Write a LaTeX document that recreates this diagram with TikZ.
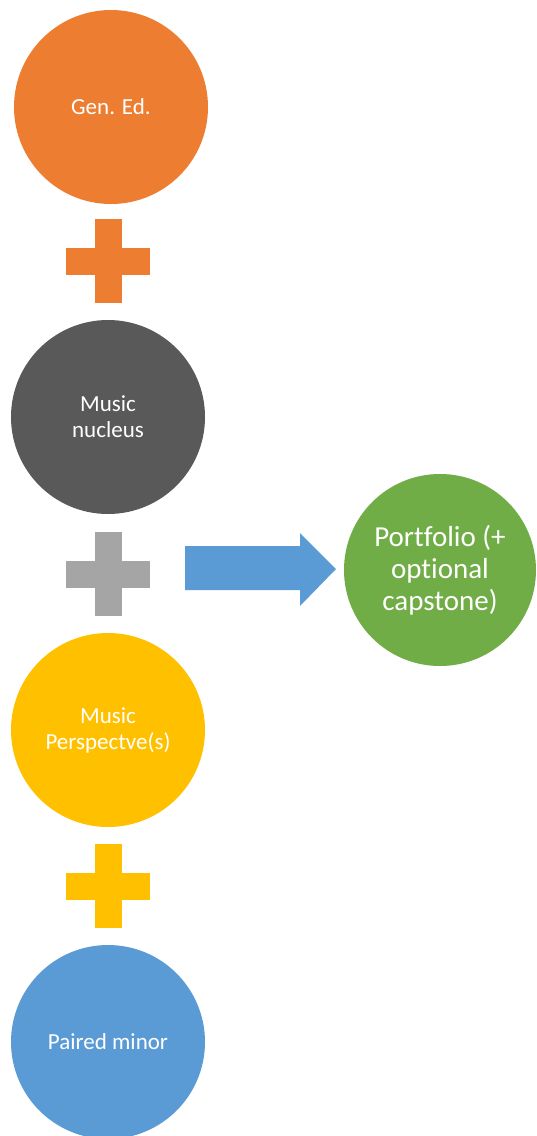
\documentclass[tikz,border=0pt]{standalone}
\usepackage{fontspec}
\setmainfont[Ligatures=NoCommon]{Carlito}

\definecolor{genorange}{HTML}{ED7D31}
\definecolor{nucleusgrey}{HTML}{595959}
\definecolor{plusgrey}{HTML}{A5A5A5}
\definecolor{perspyellow}{HTML}{FFC000}
\definecolor{minorblue}{HTML}{5B9BD5}
\definecolor{portgreen}{HTML}{70AD47}

\tikzset{
  stage/.style={circle,minimum size=194pt,inner sep=0pt,text=white,align=center,
    font=\fontsize{23}{26}\selectfont},
  goal/.style={stage,minimum size=192pt,font=\fontsize{29}{32}\selectfont}
}

\begin{document}
\begin{tikzpicture}[x=1pt,y=-1pt]
  \useasboundingbox (0,0) rectangle (536,1136);

  \node[stage,fill=genorange]   (gen)     at (111,107)  {Gen. Ed.};
  \node[stage,fill=nucleusgrey] (nucleus) at (108,417)  {Music\\nucleus};
  \node[stage,fill=perspyellow] (persp)   at (108,730)  {Music\\Perspectve(s)};
  \node[stage,fill=minorblue]   (minor)   at (108,1042) {Paired minor};

  \node[goal,fill=portgreen] (portfolio) at (440,570) {Portfolio (+\\optional\\capstone)};

  % plus signs between the circles
  \foreach \y/\c in {261/genorange,574/plusgrey,886/perspyellow}{
    \fill[\c] (94.5,{\y-42}) rectangle (121.5,{\y+42});
    \fill[\c] (66,{\y-13.5}) rectangle (150,{\y+13.5});
  }

  % block arrow to the portfolio
  \coordinate (tail) at (185,568);
  \coordinate (tip) at (336,569);
  \fill[minorblue] (tail) ++(0,-22) -- (300,546) -- (300,533) -- (tip)
    -- (300,606) -- (300,590) -- (185,590) -- cycle;
\end{tikzpicture}
\end{document}
